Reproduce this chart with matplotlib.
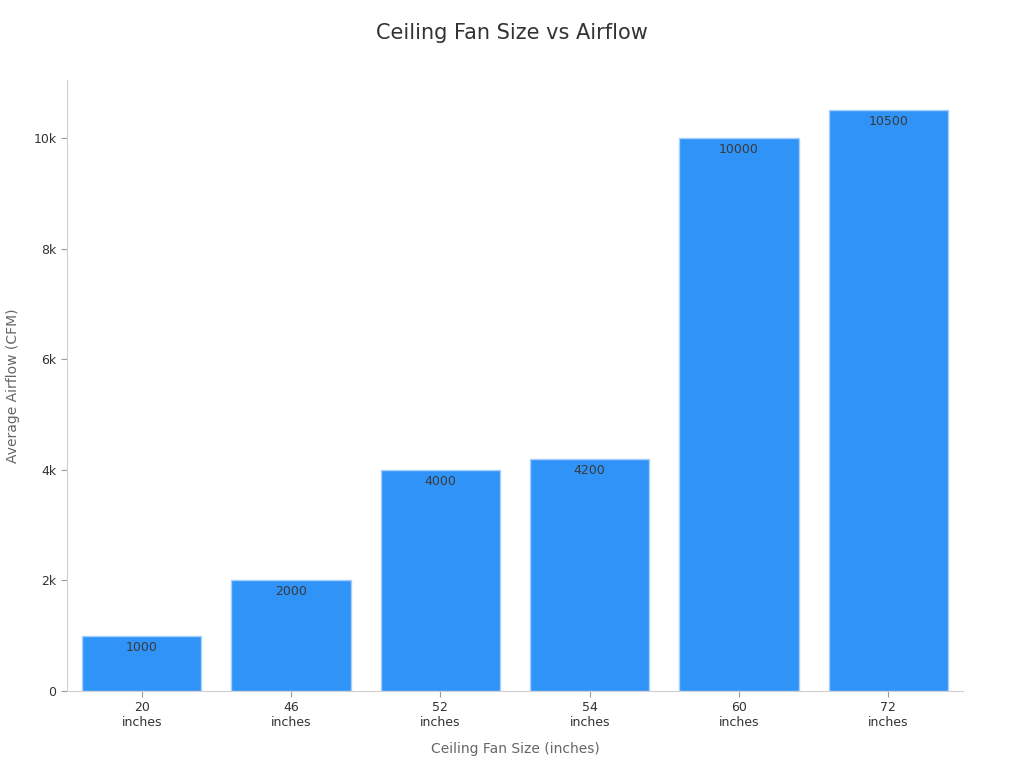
import matplotlib.pyplot as plt
from matplotlib.ticker import FuncFormatter

sizes = ['20\ninches', '46\ninches', '52\ninches', '54\ninches', '60\ninches', '72\ninches']
airflow = [1000, 2000, 4000, 4200, 10000, 10500]

fig = plt.figure(figsize=(10.24, 7.68), dpi=100)
ax = fig.add_axes([0.0654, 0.1003, 0.875, 0.7955])

x = list(range(len(sizes)))
bars = ax.bar(x, airflow, width=0.8, color='#3093F8', edgecolor='#a8d0fb', linewidth=1)

for b, v in zip(bars, airflow):
    ax.text(b.get_x() + b.get_width() / 2, v - 90, str(v), ha='center', va='top',
            fontsize=9, color='#3a3a3a')

ax.set_xlim(-0.5, 5.5)
ax.set_ylim(0, 11050)
ax.set_xticks(x)
ax.set_xticklabels(sizes)
ax.set_yticks([0, 2000, 4000, 6000, 8000, 10000])
ax.yaxis.set_major_formatter(FuncFormatter(lambda v, p: '0' if v == 0 else '%dk' % (v / 1000)))

for s in ['top', 'right']:
    ax.spines[s].set_visible(False)
for s in ['left', 'bottom']:
    ax.spines[s].set_color('#d0d0d0')
ax.tick_params(axis='both', labelsize=9, colors='#333333', length=4)
ax.tick_params(axis='both', color='#999999')

ax.set_xlabel('Ceiling Fan Size (inches)', fontsize=10, color='#666666', labelpad=9)
ax.set_ylabel('Average Airflow (CFM)', fontsize=10, color='#666666', labelpad=10)
fig.suptitle('Ceiling Fan Size vs Airflow', y=1 - 33 / 768, va='center', fontsize=15, color='#333333')

plt.savefig('out.png')
